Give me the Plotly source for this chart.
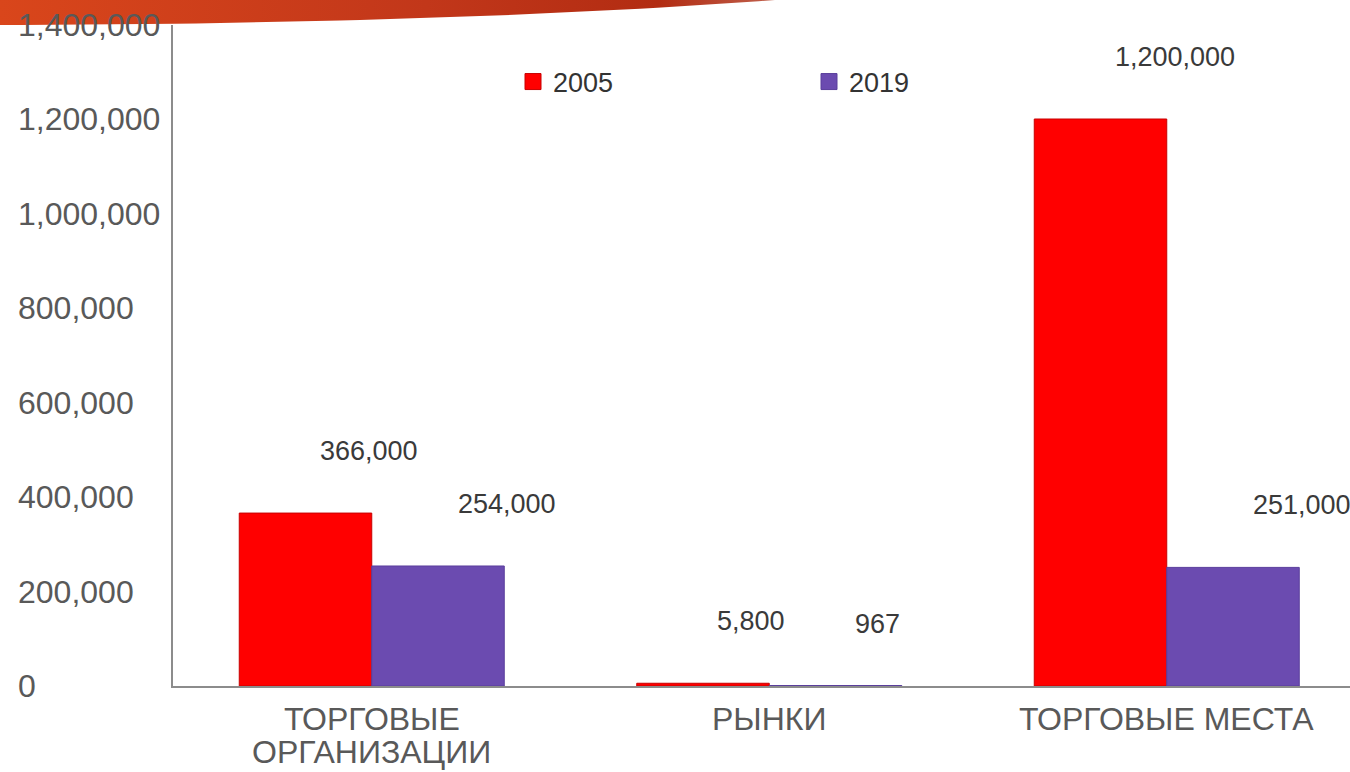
import plotly.graph_objects as go

W, H = 1350, 772

categories = ["ТОРГОВЫЕ<br>ОРГАНИЗАЦИИ", "РЫНКИ", "ТОРГОВЫЕ МЕСТА"]
series_names = ["2005", "2019"]
values_2005 = [366000, 5800, 1200000]
values_2019 = [254000, 967, 251000]
tick_values = [0, 200000, 400000, 600000, 800000, 1000000, 1200000, 1400000]
tick_labels = ["0", "200,000", "400,000", "600,000", "800,000", "1,000,000", "1,200,000", "1,400,000"]

RED = "#FF0000"
PURPLE = "#6B4BB0"
GRAY_TEXT = "#595959"
LABEL_TEXT = "#3a3a3a"
AXIS = "#8C8C8C"
FONT = "Liberation Sans, Arial, sans-serif"

# plot area in pixels
PL, PR, PT, PB = 173, 1350, 24.5, 686

fig = go.Figure()

colors = [RED, PURPLE]
edges = ["#C80000", "#5A3E9C"]
for name, vals, col, ec in zip(series_names, [values_2005, values_2019], colors, edges):
    fig.add_trace(go.Bar(
        x=categories, y=vals, name=name,
        marker=dict(color=col, line=dict(color=ec, width=1)),
        xaxis="x", yaxis="y", hoverinfo="skip", showlegend=False,
    ))
# legend entries with larger square swatches
for name, col, ec in zip(series_names, colors, edges):
    fig.add_trace(go.Scatter(
        x=[None], y=[None], mode="markers", name=name,
        marker=dict(symbol="square", size=16, color=col, line=dict(color=ec, width=1)),
        xaxis="x", yaxis="y", hoverinfo="skip", showlegend=True,
    ))

# decorative swoosh at the top (slide ornament) drawn on a full-page pixel axis
def bez(p0, p1, p2, n=40):
    pts = []
    for i in range(n + 1):
        t = i / n
        x = (1 - t) ** 2 * p0[0] + 2 * (1 - t) * t * p1[0] + t ** 2 * p2[0]
        y = (1 - t) ** 2 * p0[1] + 2 * (1 - t) * t * p1[1] + t ** 2 * p2[1]
        pts.append((x, y))
    return pts

edge = bez((0, 25), (450, 24), (775, 0))
sx = [0] + [p[0] for p in edge] + [0]
sy = [0] + [p[1] for p in edge] + [0]
fig.add_trace(go.Scatter(
    x=sx, y=sy, mode="lines", fill="toself", line=dict(width=0),
    fillgradient=dict(type="horizontal",
                      colorscale=[[0, "#D9461B"], [0.55, "#C2371A"], [0.85, "#B22C12"], [1, "#C0604C"]]),
    xaxis="x2", yaxis="y2", hoverinfo="skip", showlegend=False,
))

annotations = []
# y tick labels, left aligned
for v, t in zip(tick_values, tick_labels):
    annotations.append(dict(
        x=16 / W, xref="paper", xanchor="left", y=v, yref="y", yanchor="middle",
        text=t, showarrow=False, font=dict(family=FONT, size=32, color=GRAY_TEXT),
    ))
# category labels, one annotation per line for tight line spacing
for c in categories:
    for i, line in enumerate(c.split("<br>")):
        annotations.append(dict(
            x=c, xref="x", y=1 - 719 / H, yref="paper", xanchor="center", yanchor="middle",
            yshift=-33 * i, text=line, showarrow=False,
            font=dict(family=FONT, size=32, color=GRAY_TEXT),
        ))
# data labels
for vals, xs in ((values_2005, -54), (values_2019, 84)):
    for c, v in zip(categories, vals):
        annotations.append(dict(
            x=c, xref="x", y=v, yref="y", xanchor="left", yanchor="middle",
            xshift=xs, yshift=62, text=f"{v:,}", showarrow=False,
            font=dict(family=FONT, size=27, color=LABEL_TEXT),
        ))

fig.update_layout(
    width=W, height=H,
    margin=dict(l=0, r=0, t=0, b=0),
    paper_bgcolor="white", plot_bgcolor="rgba(0,0,0,0)",
    barmode="group", bargap=1 / 3, bargroupgap=0,
    font=dict(family=FONT, color=GRAY_TEXT),
    xaxis=dict(
        domain=[PL / W, PR / W], range=[-0.5, 2.461],
        showline=True, linecolor=AXIS, linewidth=2, showgrid=False,
        ticks="", showticklabels=False, zeroline=False, anchor="y",
    ),
    yaxis=dict(
        domain=[1 - PB / H, 1 - PT / H], range=[0, 1400000],
        showline=True, linecolor=AXIS, linewidth=2, showgrid=False,
        showticklabels=False, ticks="", zeroline=False, anchor="x",
    ),
    xaxis2=dict(domain=[0, 1], range=[0, W], visible=False, anchor="y2", fixedrange=True),
    yaxis2=dict(domain=[0, 1], range=[H, 0], visible=False, anchor="x2", fixedrange=True),
    legend=dict(
        orientation="h", x=0.38, y=1 - 82 / H, xanchor="left", yanchor="middle",
        font=dict(family=FONT, size=27, color="#333333"),
        entrywidth=251, entrywidthmode="pixels", bgcolor="rgba(0,0,0,0)",
        traceorder="normal",
    ),
    annotations=annotations,
    showlegend=True,
)

fig.write_html(
    "out.html",
    config={"displayModeBar": False},
    post_script="document.body.style.margin='0';document.body.style.overflow='hidden';",
)
